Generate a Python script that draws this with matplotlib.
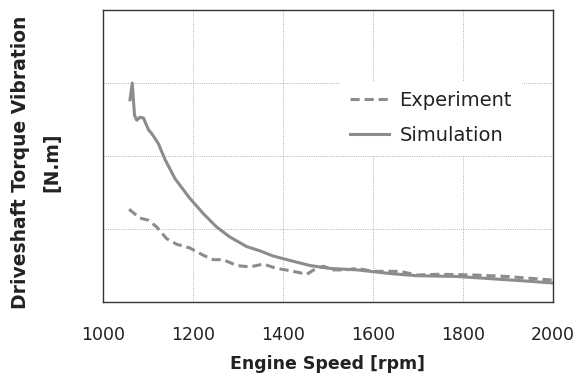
import matplotlib
matplotlib.use("Agg")
import matplotlib.pyplot as plt

sim_rpm = [1060, 1065, 1070, 1075, 1082, 1090, 1101, 1108, 1123, 1138, 1160, 1193, 1223,
           1252, 1282, 1319, 1349, 1378, 1415, 1460, 1504, 1564, 1638, 1697, 1786, 1860,
           1934, 2000]
sim_val = [2.77, 3.00, 2.56, 2.49, 2.53, 2.52, 2.36, 2.31, 2.17, 1.95, 1.69, 1.42, 1.21,
           1.03, 0.89, 0.76, 0.70, 0.63, 0.57, 0.50, 0.46, 0.44, 0.39, 0.36, 0.35, 0.32,
           0.29, 0.26]

exp_rpm = [1058, 1082, 1101, 1119, 1141, 1164, 1193, 1223, 1245, 1267, 1297, 1327, 1356,
           1386, 1415, 1453, 1471, 1490, 1512, 1541, 1564, 1601, 1660, 1697, 1749, 1823,
           1897, 2000]
exp_val = [1.27, 1.15, 1.12, 1.03, 0.87, 0.79, 0.74, 0.64, 0.58, 0.58, 0.50, 0.48, 0.52,
           0.46, 0.43, 0.38, 0.45, 0.49, 0.44, 0.44, 0.46, 0.42, 0.42, 0.37, 0.38, 0.37,
           0.35, 0.30]

x_ticks = [1000, 1200, 1400, 1600, 1800, 2000]
y_grid = [1, 2, 3]

fig = plt.figure(figsize=(5.81, 3.76), dpi=100)
ax = fig.add_axes([103/581, 1-302/376, 450/581, 292/376])

col = '#8c8c8e'
ax.plot(exp_rpm, exp_val, color=col, lw=2.2, ls=(0, (3, 1.6)), label='Experiment',
        solid_capstyle='butt')
ax.plot(sim_rpm, sim_val, color=col, lw=2.2, label='Simulation')

ax.set_xlim(1000, 2000)
ax.set_ylim(0, 4)
ax.set_xticks(x_ticks)
ax.set_xticklabels([str(t) for t in x_ticks], fontsize=12.5, color='#222222')
ax.set_yticks(y_grid)
ax.set_yticklabels([])
ax.tick_params(length=0, pad=17)
ax.grid(True, color='#b4b4b4', ls=(0, (1, 1.3)), lw=0.7)
ax.set_axisbelow(True)
for s in ax.spines.values():
    s.set_color('#333333')
    s.set_linewidth(1.0)

ax.set_xlabel('Engine Speed [rpm]', fontsize=12.5, fontweight='bold', color='#222222', labelpad=8)
fig.text(36/581, 1-162/376, 'Driveshaft Torque Vibration\n[N.m]', rotation=90,
         fontsize=13.5, fontweight='bold', color='#222222', ha='center', va='center',
         multialignment='center', linespacing=1.85)

leg = ax.legend(loc='upper left', bbox_to_anchor=(0.505, 0.79), fontsize=14,
                frameon=True, fancybox=False, edgecolor='none', facecolor='white',
                framealpha=1, handlelength=2.0, handletextpad=0.55, labelspacing=0.85,
                borderpad=0.5, labelcolor='#222222')

fig.savefig('out.png', dpi=100)
